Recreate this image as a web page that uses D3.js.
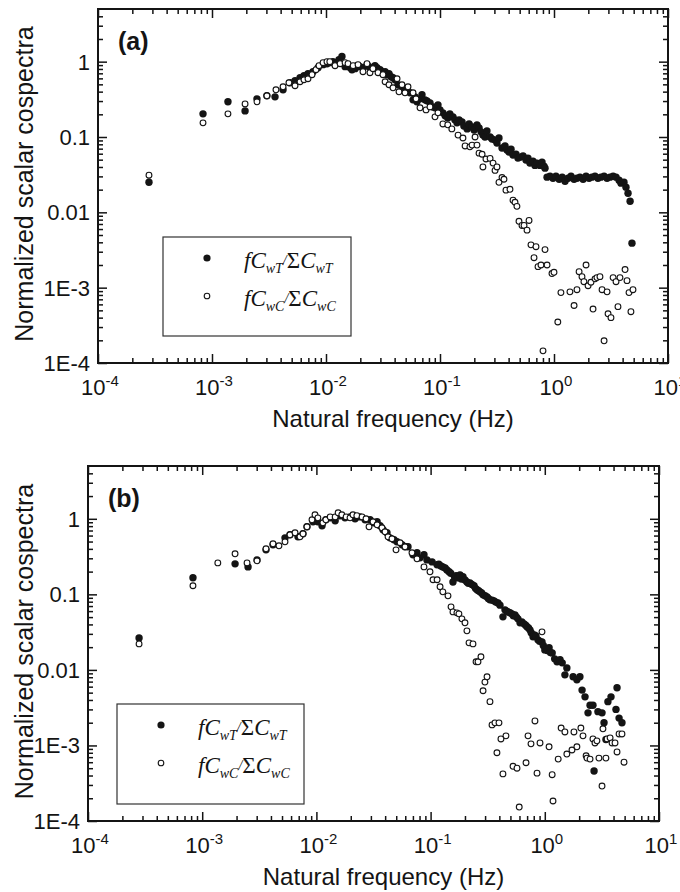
<!DOCTYPE html>
<html>
<head>
<meta charset="utf-8">
<script src="https://cdn.jsdelivr.net/npm/d3@7"></script>
<style>
  body { margin: 0; background: #fff; }
  svg { display: block; }
</style>
</head>
<body>
<div id="chart"></div>
<script>
// ---- data: [frequency (Hz), normalized cospectrum] ----

// panel (a), fCwT / sum CwT  (filled circles)
const wT_a = [
  [2.80e-4, 0.0251], [8.34e-4, 0.203], [1.38e-3, 0.293], [1.95e-3, 0.222], [2.48e-3, 0.321],
  [3.03e-3, 0.352], [3.57e-3, 0.341], [4.20e-3, 0.423], [4.83e-3, 0.525], [5.35e-3, 0.558],
  [5.92e-3, 0.612], [6.41e-3, 0.651], [6.95e-3, 0.692], [7.69e-3, 0.736], [8.51e-3, 0.832],
  [9.42e-3, 0.912], [1.02e-2, 0.94], [1.08e-2, 0.97], [1.15e-2, 1.0], [1.25e-2, 0.97],
  [1.30e-2, 1.06], [1.38e-2, 1.17], [1.47e-2, 0.858], [1.53e-2, 0.912], [1.63e-2, 0.832],
  [1.69e-2, 0.782], [1.80e-2, 0.807], [1.87e-2, 0.884], [1.99e-2, 0.858], [2.11e-2, 0.832],
  [2.29e-2, 0.912], [2.38e-2, 0.858], [2.54e-2, 0.807], [2.69e-2, 0.884], [2.80e-2, 0.832],
  [2.98e-2, 0.782], [3.10e-2, 0.736], [3.30e-2, 0.736], [3.43e-2, 0.671], [3.57e-2, 0.692],
  [3.72e-2, 0.631], [3.87e-2, 0.612], [4.03e-2, 0.575], [4.28e-2, 0.494], [4.64e-2, 0.464],
  [4.93e-2, 0.398], [5.14e-2, 0.423], [5.46e-2, 0.386], [5.80e-2, 0.311], [6.04e-2, 0.341],
  [6.28e-2, 0.293], [6.68e-2, 0.321], [6.95e-2, 0.363], [7.38e-2, 0.311], [7.69e-2, 0.302],
  [8.17e-2, 0.284], [8.68e-2, 0.251], [9.04e-2, 0.244], [9.60e-2, 0.267], [0.100, 0.229],
  [0.106, 0.209], [0.111, 0.191], [0.117, 0.179], [0.122, 0.203], [0.130, 0.185],
  [0.135, 0.169], [0.141, 0.154], [0.147, 0.169], [0.156, 0.158], [0.162, 0.140],
  [0.173, 0.128], [0.180, 0.149], [0.191, 0.136], [0.199, 0.124], [0.211, 0.145],
  [0.220, 0.132], [0.229, 0.117], [0.238, 0.106], [0.248, 0.100], [0.258, 0.120],
  [0.275, 0.100], [0.286, 0.094], [0.304, 0.091], [0.316, 0.083], [0.329, 0.097],
  [0.350, 0.0714], [0.372, 0.076], [0.387, 0.067], [0.403, 0.063], [0.420, 0.069],
  [0.437, 0.0575], [0.464, 0.059], [0.483, 0.0525], [0.504, 0.054], [0.535, 0.056],
  [0.568, 0.0494], [0.591, 0.0525], [0.615, 0.045], [0.654, 0.0479], [0.681, 0.042],
  [0.709, 0.045], [0.754, 0.042], [0.785, 0.0464], [0.817, 0.041], [0.834, 0.0386],
  [0.869, 0.0293], [0.923, 0.0302], [0.98, 0.0284], [1.04, 0.0302], [1.11, 0.0275],
  [1.18, 0.0293], [1.25, 0.0259], [1.33, 0.0284], [1.41, 0.0302], [1.50, 0.0275],
  [1.59, 0.0284], [1.69, 0.0293], [1.80, 0.0275], [1.91, 0.0302], [2.03, 0.0284],
  [2.15, 0.0293], [2.29, 0.0302], [2.43, 0.0284], [2.58, 0.0293], [2.75, 0.0302],
  [2.92, 0.0284], [3.10, 0.0293], [3.30, 0.0302], [3.50, 0.0293], [3.72, 0.0267],
  [3.87, 0.0244], [4.11, 0.0251], [4.28, 0.0216], [4.46, 0.0179], [4.65, 0.0140],
  [4.83, 0.0039]
];

// panel (a), fCwC / sum CwC  (open circles)
const wC_a = [
  [2.80e-4, 0.0311], [8.34e-4, 0.154], [1.38e-3, 0.203], [1.95e-3, 0.275], [2.48e-3, 0.293],
  [3.03e-3, 0.352], [3.64e-3, 0.423], [4.20e-3, 0.464], [4.73e-3, 0.525], [5.35e-3, 0.479],
  [5.92e-3, 0.541], [6.41e-3, 0.575], [6.95e-3, 0.593], [7.54e-3, 0.671], [8.17e-3, 0.782],
  [8.68e-3, 0.884], [9.42e-3, 0.97], [1.02e-2, 1.0], [1.08e-2, 1.0], [1.20e-2, 0.884],
  [1.33e-2, 0.94], [1.47e-2, 0.97], [1.56e-2, 0.94], [1.73e-2, 0.884], [1.91e-2, 0.912],
  [2.11e-2, 0.736], [2.29e-2, 0.94], [2.43e-2, 0.714], [2.58e-2, 0.807], [2.86e-2, 0.714],
  [3.16e-2, 0.671], [3.30e-2, 0.541], [3.57e-2, 0.494], [3.87e-2, 0.45], [4.20e-2, 0.593],
  [4.37e-2, 0.398], [4.64e-2, 0.494], [4.93e-2, 0.386], [5.24e-2, 0.464], [5.80e-2, 0.386],
  [6.16e-2, 0.321], [6.68e-2, 0.244], [7.54e-2, 0.229], [8.17e-2, 0.251], [9.04e-2, 0.185],
  [9.60e-2, 0.209], [0.106, 0.149], [0.117, 0.145], [0.127, 0.128], [0.144, 0.106],
  [0.159, 0.097], [0.166, 0.076], [0.183, 0.074], [0.191, 0.078], [0.203, 0.100],
  [0.211, 0.078], [0.220, 0.061], [0.234, 0.059], [0.238, 0.040], [0.253, 0.051],
  [0.275, 0.052], [0.292, 0.045], [0.304, 0.036], [0.316, 0.040], [0.329, 0.025],
  [0.350, 0.029], [0.364, 0.0275], [0.379, 0.0197], [0.411, 0.0202], [0.437, 0.0145],
  [0.455, 0.0136], [0.473, 0.0120], [0.493, 0.0076], [0.524, 0.0067], [0.546, 0.0067],
  [0.580, 0.0058], [0.604, 0.0078], [0.628, 0.0037], [0.668, 0.0025], [0.695, 0.0035],
  [0.724, 0.0019], [0.769, 0.0020], [0.801, 0.000145], [0.834, 0.0032], [0.869, 0.0020],
  [0.960, 0.00154], [1.0, 0.0016], [1.08, 0.00035], [1.15, 0.00086], [1.38, 0.00088],
  [1.50, 0.00058], [1.59, 0.00094], [1.66, 0.00163], [1.76, 0.0014], [1.83, 0.0012],
  [1.91, 0.0020], [1.99, 0.00106], [2.11, 0.00118], [2.20, 0.00052], [2.29, 0.00131],
  [2.38, 0.00136], [2.53, 0.0014], [2.64, 0.00094], [2.75, 0.000197], [2.92, 0.00088],
  [2.98, 0.00045], [3.16, 0.0004], [3.30, 0.00136], [3.50, 0.0012], [3.64, 0.00056],
  [3.79, 0.00136], [4.20, 0.00174], [4.37, 0.00124], [4.55, 0.00086], [4.73, 0.00048],
  [4.93, 0.00094]
];

// panel (b), fCwT / sum CwT  (filled circles)
const wT_b = [
  [2.80e-4, 0.0265], [8.30e-4, 0.1655], [1.94e-3, 0.2535], [2.52e-3, 0.231], [3.02e-3, 0.286],
  [3.62e-3, 0.388], [4.17e-3, 0.453], [5.31e-3, 0.560], [5.87e-3, 0.614], [6.90e-3, 0.578],
  [7.63e-3, 0.633], [8.27e-3, 0.784], [9.34e-3, 0.913], [1.03e-2, 0.913], [1.12e-2, 0.808],
  [1.21e-2, 0.970], [1.32e-2, 1.03], [1.46e-2, 0.941], [1.61e-2, 1.10], [1.78e-2, 1.03],
  [1.97e-2, 1.06], [2.18e-2, 1.0], [2.41e-2, 1.06], [2.67e-2, 0.970], [2.95e-2, 0.970],
  [3.19e-2, 0.885], [3.40e-2, 0.913], [3.61e-2, 0.808], [3.83e-2, 0.715], [4.15e-2, 0.653],
  [4.41e-2, 0.560], [4.78e-2, 0.527], [5.08e-2, 0.496], [5.62e-2, 0.453], [5.97e-2, 0.426],
  [6.34e-2, 0.426], [7.02e-2, 0.334], [7.60e-2, 0.355], [8.07e-2, 0.304], [8.75e-2, 0.334],
  [9.29e-2, 0.286], [0.103, 0.269], [0.114, 0.246], [0.118, 0.25], [0.123, 0.238],
  [0.128, 0.23], [0.134, 0.224], [0.139, 0.21], [0.145, 0.199], [0.150, 0.19],
  [0.157, 0.146], [0.162, 0.17], [0.167, 0.176], [0.174, 0.165], [0.181, 0.181],
  [0.186, 0.16], [0.192, 0.171], [0.200, 0.155], [0.208, 0.146], [0.214, 0.14],
  [0.221, 0.142], [0.230, 0.135], [0.240, 0.130], [0.247, 0.12], [0.255, 0.115],
  [0.263, 0.112], [0.271, 0.108], [0.280, 0.104], [0.288, 0.0985], [0.300, 0.096],
  [0.312, 0.0927], [0.320, 0.088], [0.331, 0.0846], [0.345, 0.084], [0.359, 0.082],
  [0.372, 0.079], [0.389, 0.0771], [0.405, 0.072], [0.430, 0.0504], [0.448, 0.0624],
  [0.462, 0.060], [0.476, 0.0586], [0.495, 0.057], [0.516, 0.0552], [0.530, 0.052],
  [0.548, 0.0535], [0.565, 0.05], [0.582, 0.0474], [0.607, 0.042], [0.630, 0.043],
  [0.658, 0.0407], [0.68, 0.039], [0.698, 0.0372], [0.72, 0.036], [0.741, 0.0339],
  [0.76, 0.031], [0.789, 0.0274], [0.81, 0.029], [0.837, 0.0282], [0.871, 0.0250],
  [0.90, 0.024], [0.945, 0.0235], [0.97, 0.021], [1.00, 0.0184], [1.05, 0.018],
  [1.09, 0.0196], [1.12, 0.017], [1.16, 0.0168], [1.22, 0.014], [1.28, 0.0128],
  [1.36, 0.0136], [1.42, 0.0124], [1.50, 0.0086], [1.56, 0.0106], [1.77, 0.0081],
  [1.91, 0.0074], [2.03, 0.0081], [2.12, 0.0054], [2.25, 0.0044], [2.39, 0.0027],
  [2.49, 0.0034], [2.64, 0.0034], [2.70, 0.00046], [2.92, 0.0028], [3.17, 0.0027],
  [3.30, 0.0020], [3.43, 0.0012], [3.57, 0.0038], [3.80, 0.0044], [4.20, 0.0030],
  [4.29, 0.0058], [4.47, 0.0023], [4.74, 0.0020]
];

// panel (b), fCwC / sum CwC  (open circles)
const wC_b = [
  [2.80e-4, 0.0221], [8.30e-4, 0.130], [1.37e-3, 0.261], [1.94e-3, 0.344], [2.47e-3, 0.261],
  [3.02e-3, 0.278], [3.62e-3, 0.401], [4.17e-3, 0.467], [4.70e-3, 0.439], [5.31e-3, 0.496],
  [5.87e-3, 0.614], [6.50e-3, 0.653], [7.18e-3, 0.578], [7.63e-3, 0.633], [8.27e-3, 0.784],
  [9.15e-3, 0.970], [9.72e-3, 1.13], [1.03e-2, 1.03], [1.14e-2, 0.885], [1.21e-2, 0.970],
  [1.32e-2, 1.06], [1.46e-2, 1.06], [1.55e-2, 1.20], [1.67e-2, 1.13], [1.82e-2, 1.06],
  [1.97e-2, 1.03], [2.09e-2, 1.13], [2.26e-2, 1.10], [2.51e-2, 1.06], [2.72e-2, 1.0],
  [2.89e-2, 0.784], [3.13e-2, 0.913], [3.40e-2, 0.833], [3.75e-2, 0.760], [3.99e-2, 0.673],
  [4.24e-2, 0.578], [4.59e-2, 0.544], [4.98e-2, 0.388], [5.40e-2, 0.482], [5.97e-2, 0.426],
  [6.87e-2, 0.355], [7.60e-2, 0.295], [8.75e-2, 0.231], [9.88e-2, 0.199], [0.105, 0.156],
  [0.114, 0.156], [0.121, 0.126], [0.128, 0.108], [0.142, 0.0955], [0.151, 0.0683],
  [0.157, 0.0586], [0.170, 0.0569], [0.177, 0.0552], [0.188, 0.0474], [0.200, 0.042],
  [0.208, 0.0329], [0.217, 0.0228], [0.235, 0.0221], [0.250, 0.0128], [0.260, 0.0128],
  [0.276, 0.0149], [0.288, 0.0053], [0.299, 0.0069], [0.312, 0.0081], [0.331, 0.0038],
  [0.345, 0.00187], [0.366, 0.00199], [0.381, 0.00080], [0.397, 0.00199], [0.413, 0.00122],
  [0.430, 0.00042], [0.457, 0.00134], [0.527, 0.00053], [0.571, 0.00050], [0.597, 0.000153],
  [0.685, 0.00059], [0.713, 0.00134], [0.757, 0.00105], [0.820, 0.00211], [0.855, 0.00043],
  [0.908, 0.00108], [0.945, 0.0319], [1.09, 0.00096], [1.16, 0.00041], [1.18, 0.000184],
  [1.31, 0.00066], [1.39, 0.0017], [1.50, 0.00151], [1.56, 0.00077], [1.73, 0.00087],
  [1.80, 0.00151], [1.91, 0.00096], [2.07, 0.0017], [2.16, 0.00134], [2.30, 0.00073],
  [2.34, 0.00068], [2.49, 0.00066], [2.64, 0.00122], [2.75, 0.00108], [2.86, 0.00115],
  [2.98, 0.00068], [3.17, 0.00029], [3.23, 0.00166], [3.43, 0.00068], [3.51, 0.00122],
  [3.73, 0.00126], [3.88, 0.00108], [4.12, 0.00108], [4.29, 0.00082], [4.47, 0.00142],
  [4.74, 0.00142], [4.94, 0.0006]
];

// axis ticks and labels
const yTickValues = [1e-4, 1e-3, 1e-2, 1e-1, 1];
const yTickLabels = ["1E-4", "1E-3", "0.01", "0.1", "1"];
const xTickExps = [-4, -3, -2, -1, 0, 1];
const panelLabels = ["(a)", "(b)"];
const legendSubs = ["wT", "wC"];

/**
 * LAYOUT
 * */
const width = 680, height = 892;
const ink = "#141414";

const svg = d3.select("#chart")
  .append("svg")
  .attr("width", width)
  .attr("height", height);

const panels = [
  { label: panelLabels[0], left: 98, right: 668, top: 9, bottom: 363,
    T: wT_a, C: wC_a, legend: { x: 163, y: 237, w: 188, h: 99 } },
  { label: panelLabels[1], left: 88, right: 659, top: 466, bottom: 821,
    T: wT_b, C: wC_b, legend: { x: 117, y: 704, w: 187, h: 100 } }
];

const isDecade = v => Math.abs(Math.log10(v) - Math.round(Math.log10(v))) < 1e-9;

panels.forEach(drawPanel);

function drawPanel(p) {
  const x = d3.scaleLog().domain([1e-4, 10]).range([p.left, p.right]);
  const y = d3.scaleLog().domain([1e-4, 5]).range([p.bottom, p.top]);

  const g = svg.append("g");

  const xMajor = xTickExps.map(e => Math.pow(10, e));
  const xMinor = x.ticks().filter(v => !isDecade(v));
  const yMinor = y.ticks().filter(v => !isDecade(v) && v < 4.99);

  // ticks on all four sides, pointing inward
  const axisSets = [
    [d3.axisBottom, x, `translate(0,${p.bottom})`, xMajor, xMinor],
    [d3.axisTop, x, `translate(0,${p.top})`, xMajor, xMinor],
    [d3.axisLeft, y, `translate(${p.left},0)`, yTickValues, yMinor],
    [d3.axisRight, y, `translate(${p.right},0)`, yTickValues, yMinor]
  ];
  axisSets.forEach(([axisFn, sc, tr, major, minor]) => {
    g.append("g").attr("transform", tr)
      .call(axisFn(sc).tickValues(minor).tickSize(-5).tickFormat(""))
      .call(a => a.select(".domain").remove());
    g.append("g").attr("transform", tr)
      .call(axisFn(sc).tickValues(major).tickSize(-9).tickFormat(""))
      .call(a => a.select(".domain").remove());
  });
  g.selectAll(".tick line").attr("stroke", ink).attr("stroke-width", 1.5);

  // frame
  g.append("rect")
    .attr("x", p.left).attr("y", p.top)
    .attr("width", p.right - p.left).attr("height", p.bottom - p.top)
    .attr("fill", "none").attr("stroke", ink).attr("stroke-width", 2);

  // y tick labels
  g.selectAll("text.ylab")
    .data(yTickValues)
    .join("text")
    .attr("class", "ylab")
    .attr("x", p.left - 8)
    .attr("y", d => y(d))
    .attr("dy", "0.36em")
    .attr("text-anchor", "end")
    .attr("font-family", "Liberation Sans, Arial, sans-serif")
    .attr("font-size", 22)
    .attr("fill", ink)
    .text((d, i) => yTickLabels[i]);

  // x tick labels: 10 with a superscript exponent
  const xl = g.selectAll("text.xlab")
    .data(xTickExps)
    .join("text")
    .attr("class", "xlab")
    .attr("x", d => x(Math.pow(10, d)) + 2)
    .attr("y", p.bottom + 32)
    .attr("text-anchor", "middle")
    .attr("font-family", "Liberation Sans, Arial, sans-serif")
    .attr("font-size", 22)
    .attr("fill", ink);
  xl.append("tspan").text("10");
  xl.append("tspan").attr("font-size", 15).attr("dy", -9).text(d => d < 0 ? "-" + (-d) : String(d));

  // axis titles
  g.append("text")
    .attr("x", (p.left + p.right) / 2 + 10)
    .attr("y", p.bottom + 64)
    .attr("text-anchor", "middle")
    .attr("font-family", "Liberation Sans, Arial, sans-serif")
    .attr("font-size", 24)
    .attr("fill", ink)
    .text("Natural frequency (Hz)");

  g.append("text")
    .attr("transform", `translate(33,${(p.top + p.bottom) / 2 - 2}) rotate(-90)`)
    .attr("text-anchor", "middle")
    .attr("font-family", "Liberation Sans, Arial, sans-serif")
    .attr("font-size", 25)
    .attr("fill", ink)
    .text("Normalized scalar cospectra");

  // panel label
  g.append("text")
    .attr("x", p.left + 20)
    .attr("y", y(1) - 12)
    .attr("font-family", "Liberation Sans, Arial, sans-serif")
    .attr("font-weight", "bold")
    .attr("font-size", 25)
    .attr("fill", ink)
    .text(p.label);

  // data
  g.append("g").selectAll("circle")
    .data(p.T)
    .join("circle")
    .attr("cx", d => x(d[0]))
    .attr("cy", d => y(d[1]))
    .attr("r", 3.7)
    .attr("fill", ink);

  g.append("g").selectAll("circle")
    .data(p.C)
    .join("circle")
    .attr("cx", d => x(d[0]))
    .attr("cy", d => y(d[1]))
    .attr("r", 2.9)
    .attr("fill", "#fff")
    .attr("stroke", ink)
    .attr("stroke-width", 1.1);

  // legend
  const L = p.legend;
  const lg = g.append("g");
  lg.append("rect")
    .attr("x", L.x).attr("y", L.y).attr("width", L.w).attr("height", L.h)
    .attr("fill", "#fff").attr("stroke", "#333").attr("stroke-width", 1.2);

  legendSubs.forEach((sub, i) => {
    const cy = L.y + 21 + i * 38;
    lg.append("circle")
      .attr("cx", L.x + 44).attr("cy", cy)
      .attr("r", i === 0 ? 3.6 : 2.8)
      .attr("fill", i === 0 ? ink : "#fff")
      .attr("stroke", ink).attr("stroke-width", i === 0 ? 0 : 1.1);

    const t = lg.append("text")
      .attr("x", L.x + 81).attr("y", cy + 10)
      .attr("font-family", "Liberation Serif, Times New Roman, serif")
      .attr("font-style", "italic")
      .attr("font-size", 23)
      .attr("fill", ink);
    t.append("tspan").text("fC");
    t.append("tspan").attr("font-size", 14).attr("dy", 5).text(sub);
    t.append("tspan").attr("font-size", 14).attr("dy", -8).text("/");
    t.append("tspan").attr("dy", 3).attr("font-style", "normal").text("Σ");
    t.append("tspan").text("C");
    t.append("tspan").attr("font-size", 14).attr("dy", 5).text(sub);
  });
}
</script>
</body>
</html>
